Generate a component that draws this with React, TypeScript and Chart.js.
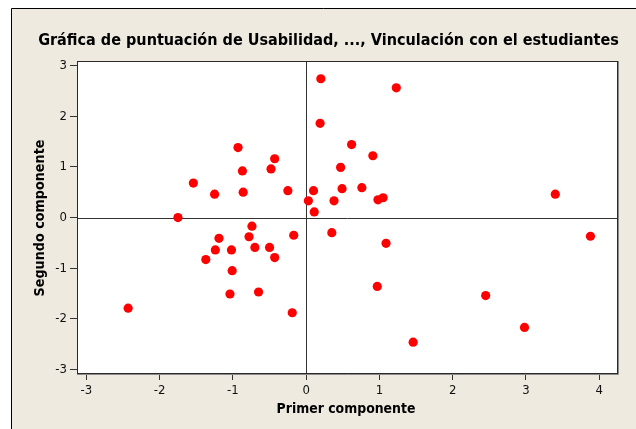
import React, { useEffect, useRef } from "react";
import { Chart, registerables } from "chart.js";

Chart.register(...registerables);

const TITLE = "Gráfica de puntuación de Usabilidad, ..., Vinculación con el estudiantes";
const X_LABEL = "Primer componente";
const Y_LABEL = "Segundo componente";

const X_TICKS = [-3, -2, -1, 0, 1, 2, 3, 4];
const Y_TICKS = [-3, -2, -1, 0, 1, 2, 3];

const firstComponent = [
  -1.75, -1.54, -1.25, -0.93, -0.87, -0.86, -0.48, -0.43, -0.25, 0.03,
  0.2, 1.23, 0.19, 0.62, 0.91, 0.47, 0.1, 0.49, 0.76, 0.38,
  0.98, 1.05, 0.11, 3.4, -0.74, -0.78, -1.19, -0.17, -1.24, -1.02,
  -0.7, -0.5, -0.43, -1.37, -1.01, -0.65, -1.04, -0.19, -2.43, 0.35,
  1.09, 3.88, 0.97, 2.45, 2.98, 1.46,
];
const secondComponent = [
  0.0, 0.68, 0.46, 1.38, 0.92, 0.5, 0.96, 1.16, 0.53, 0.33,
  2.74, 2.56, 1.86, 1.44, 1.22, 0.99, 0.53, 0.57, 0.59, 0.33,
  0.35, 0.39, 0.11, 0.46, -0.17, -0.38, -0.41, -0.35, -0.64, -0.64,
  -0.59, -0.59, -0.79, -0.83, -1.05, -1.47, -1.51, -1.88, -1.79, -0.3,
  -0.51, -0.37, -1.36, -1.54, -2.17, -2.46,
];

const BG = "#EEEAE0";
const FONT = "'DejaVu Sans Condensed', 'DejaVu Sans', Tahoma, sans-serif";

function fitFont(ctx: CanvasRenderingContext2D, text: string, target: number) {
  ctx.font = `bold 16px ${FONT}`;
  const w = ctx.measureText(text).width;
  const size = (16 * target) / w;
  ctx.font = `bold ${size}px ${FONT}`;
}

const framePlugin = {
  id: "frame",
  beforeDraw(chart: any) {
    const { ctx, width, height, chartArea: a } = chart;
    ctx.save();
    ctx.fillStyle = "#ffffff";
    ctx.fillRect(0, 0, width, height);
    ctx.fillStyle = BG;
    ctx.fillRect(11, 8, width - 11, height - 8);
    ctx.strokeStyle = "#000";
    ctx.lineWidth = 1;
    ctx.beginPath();
    ctx.moveTo(11.5, height);
    ctx.lineTo(11.5, 8.5);
    ctx.lineTo(width, 8.5);
    ctx.stroke();
    ctx.fillStyle = "#ffffff";
    ctx.fillRect(a.left, a.top, a.right - a.left, a.bottom - a.top);
    ctx.restore();
  },
  beforeDatasetsDraw(chart: any) {
    const { ctx, chartArea: a, scales } = chart;
    const x0 = Math.round(scales.x.getPixelForValue(0)) + 0.5;
    const y0 = Math.round(scales.y.getPixelForValue(0)) + 0.5;
    ctx.save();
    ctx.strokeStyle = "#333";
    ctx.lineWidth = 1;
    ctx.beginPath();
    ctx.moveTo(x0, a.top);
    ctx.lineTo(x0, a.bottom);
    ctx.moveTo(a.left, y0);
    ctx.lineTo(a.right, y0);
    ctx.stroke();
    ctx.restore();
  },
  afterDraw(chart: any) {
    const { ctx, chartArea: a } = chart;
    ctx.save();
    ctx.strokeStyle = "#2a2a2a";
    ctx.lineWidth = 1;
    ctx.strokeRect(a.left + 0.5, a.top + 0.5, a.right - a.left - 1, a.bottom - a.top - 1);
    ctx.strokeStyle = "#8a8a8a";
    ctx.beginPath();
    ctx.moveTo(a.left, a.bottom + 0.5);
    ctx.lineTo(a.right + 0.5, a.bottom + 0.5);
    ctx.lineTo(a.right + 0.5, a.top);
    ctx.stroke();

    ctx.fillStyle = "#000";
    ctx.textAlign = "center";
    ctx.textBaseline = "alphabetic";
    fitFont(ctx, TITLE, 581);
    ctx.fillText(TITLE, 328.5, 45);

    fitFont(ctx, X_LABEL, 139);
    ctx.fillText(X_LABEL, 346, 413);

    ctx.translate(44, 218);
    ctx.rotate(-Math.PI / 2);
    fitFont(ctx, Y_LABEL, 157);
    ctx.fillText(Y_LABEL, 0, 0);
    ctx.restore();
  },
};

export default function App() {
  const ref = useRef<HTMLCanvasElement>(null);
  useEffect(() => {
    if (!ref.current) return;
    const points = firstComponent.map((x, i) => ({ x, y: secondComponent[i] }));
    const chart = new Chart(ref.current, {
      type: "scatter",
      data: {
        datasets: [
          {
            data: points,
            backgroundColor: "#FF0000",
            borderWidth: 0,
            pointRadius: 4.6,
            pointHoverRadius: 4.6,
          },
        ],
      },
      options: {
        animation: false,
        responsive: false,
        events: [],
        layout: { padding: { left: 0, top: 61, right: 18, bottom: 0 } },
        plugins: { legend: { display: false }, title: { display: false }, tooltip: { enabled: false } },
        scales: {
          x: {
            type: "linear",
            min: -3.128,
            max: 4.256,
            afterBuildTicks: (s: any) => {
              s.ticks = X_TICKS.map((v) => ({ value: v }));
            },
            afterFit: (s: any) => {
              s.height = 55;
            },
            border: { display: false },
            grid: { display: true, drawOnChartArea: false, drawTicks: true, tickLength: 6, color: "#333" },
            ticks: { color: "#111", font: { family: FONT, size: 13 }, padding: 3, maxRotation: 0 },
          },
          y: {
            type: "linear",
            min: -3.089,
            max: 3.09,
            afterBuildTicks: (s: any) => {
              s.ticks = Y_TICKS.map((v) => ({ value: v }));
            },
            afterFit: (s: any) => {
              s.width = 77;
            },
            border: { display: false },
            grid: { display: true, drawOnChartArea: false, drawTicks: true, tickLength: 7, color: "#333" },
            ticks: { color: "#111", font: { family: FONT, size: 13 }, padding: 3 },
          },
        },
      },
      plugins: [framePlugin],
    });
    return () => chart.destroy();
  }, []);
  return (
    <div style={{ position: "fixed", left: 0, top: 0, width: 636, height: 429 }}>
      <canvas ref={ref} width={636} height={429} style={{ display: "block" }} />
    </div>
  );
}
